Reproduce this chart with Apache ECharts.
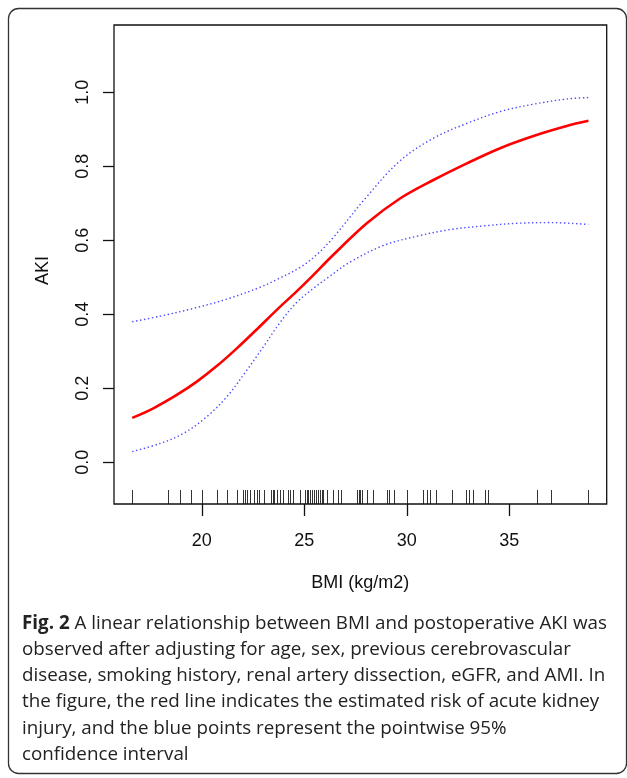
<!DOCTYPE html>
<html>
<head>
<meta charset="utf-8">
<script src="https://cdn.jsdelivr.net/npm/echarts@6/dist/echarts.min.js"></script>
<style>
html,body{margin:0;padding:0;background:#fff;}
#chart{width:627px;height:778px;}
</style>
</head>
<body>
<div id="chart"></div>
<script>
// BMI values and estimated AKI risk (red line)
const fitBMI = [16.61, 17.64, 18.78, 19.76, 20.73, 21.71, 22.68, 23.66, 24.63, 25.28, 26.42, 28.05, 29.67, 31.30, 32.93, 34.55, 36.18, 37.80, 38.86];
const fitAKI = [0.120, 0.146, 0.182, 0.218, 0.260, 0.308, 0.359, 0.412, 0.462, 0.497, 0.561, 0.646, 0.713, 0.763, 0.808, 0.849, 0.882, 0.909, 0.923];
// upper 95% CI (blue dotted)
const upBMI = [16.61, 17.97, 19.59, 21.22, 22.84, 23.66, 24.80, 25.60, 26.42, 28.05, 29.67, 31.30, 32.93, 34.55, 36.18, 37.80, 38.86];
const upAKI = [0.380, 0.395, 0.416, 0.441, 0.473, 0.494, 0.527, 0.561, 0.608, 0.718, 0.815, 0.876, 0.916, 0.948, 0.968, 0.982, 0.986];
// lower 95% CI (blue dotted)
const loBMI = [16.61, 17.97, 19.10, 20.24, 21.22, 22.20, 23.00, 23.82, 24.63, 25.44, 26.10, 27.23, 28.86, 30.49, 32.11, 33.74, 35.37, 37.00, 38.86];
const loAKI = [0.029, 0.051, 0.078, 0.123, 0.177, 0.249, 0.312, 0.378, 0.432, 0.470, 0.497, 0.541, 0.586, 0.611, 0.629, 0.639, 0.646, 0.648, 0.643];
// observed BMI values (rug)
const rugBMI = [16.61, 18.37, 18.94, 19.48, 20.01, 20.76, 21.22, 21.71, 22.03, 22.11, 22.20, 22.36, 22.55, 22.68, 22.81, 23.04, 23.38, 23.46, 23.54, 23.66, 23.82, 23.98, 24.22, 24.31, 24.47, 24.80, 25.04, 25.12, 25.20, 25.28, 25.40, 25.49, 25.58, 25.66, 25.77, 25.85, 25.93, 26.10, 26.42, 26.66, 26.78, 27.59, 27.66, 27.72, 27.80, 28.05, 28.37, 29.02, 29.15, 29.38, 30.00, 30.81, 30.98, 31.14, 31.43, 32.20, 32.89, 33.05, 33.22, 33.82, 33.95, 36.34, 37.02, 38.86];
// tick labels
const xTicks = [20, 25, 30, 35];
const yTicks = [0, 0.2, 0.4, 0.6, 0.8, 1.0];
const xName = 'BMI (kg/m2)';
const yName = 'AKI';

// plot box in data units; the y axis extends a little below the box to hold the x tick marks
const X_MIN = 15.72, X_MAX = 39.75, Y_BOX = -0.1127, Y_MAX = 1.182, Y_MIN = -0.1451;
const zip = (a, b) => a.map((v, i) => [v, b[i]]);
const axisFont = {fontFamily: 'Liberation Sans', fontSize: 18, color: '#111'};

// rows: kind 0 = rug mark, kind 1 = x-axis tick, kind 2 = plot box
const markRows = rugBMI.map(v => [v, 0]).concat(xTicks.map(v => [v, 1])).concat([[X_MIN, 2]]);

const chart = echarts.init(document.getElementById('chart'), null, {renderer: 'canvas'});
chart.setOption({
  animation: false,
  backgroundColor: '#fff',
  grid: {left: 114, right: 20.3, top: 25, bottom: 262, show: false, outerBoundsMode: 'none'},
  xAxis: {
    type: 'value', min: X_MIN, max: X_MAX,
    name: xName, nameLocation: 'middle', nameGap: 58, nameTextStyle: axisFont,
    axisLine: {show: false, onZero: false},
    splitLine: {show: false},
    axisTick: {show: false},
    axisLabel: {customValues: xTicks, margin: 16, ...axisFont, formatter: v => String(v)}
  },
  yAxis: {
    type: 'value', min: Y_MIN, max: Y_MAX,
    name: yName, nameLocation: 'middle', nameGap: 62, nameRotate: 90, nameTextStyle: axisFont,
    axisLine: {show: false, onZero: false},
    splitLine: {show: false},
    axisTick: {show: true, length: 11, lineStyle: {color: '#111', width: 1.3}, customValues: yTicks},
    axisLabel: {customValues: yTicks, rotate: 90, margin: 22, ...axisFont, formatter: v => v.toFixed(1)}
  },
  series: [
    {
      type: 'line', data: zip(upBMI, upAKI), smooth: 0.35, symbol: 'none',
      lineStyle: {color: '#4a4aff', width: 1.4, type: [1.4, 2.6]}
    },
    {
      type: 'line', data: zip(loBMI, loAKI), smooth: 0.35, symbol: 'none',
      lineStyle: {color: '#4a4aff', width: 1.4, type: [1.4, 2.6]}
    },
    {
      type: 'line', data: zip(fitBMI, fitAKI), smooth: 0.35, symbol: 'none',
      lineStyle: {color: '#ff0000', width: 2.6}
    },
    {
      type: 'custom',
      clip: false,
      data: markRows,
      renderItem: function (params, api) {
        const kind = api.value(1);
        const b = api.coord([api.value(0), Y_BOX]);
        const x = Math.round(b[0]) + 0.5;
        if (kind === 2) {
          const tr = api.coord([X_MAX, Y_MAX]);
          return {type: 'rect', shape: {x: b[0], y: tr[1], width: tr[0] - b[0], height: b[1] - tr[1]}, style: {fill: 'none', stroke: '#111', lineWidth: 1.3}};
        }
        if (kind === 1) {
          const e = api.coord([api.value(0), Y_MIN]);
          return {type: 'line', shape: {x1: x, y1: b[1], x2: x, y2: e[1]}, style: {stroke: '#111', lineWidth: 1.3}};
        }
        return {type: 'line', shape: {x1: x, y1: b[1], x2: x, y2: b[1] - 14}, style: {stroke: '#333', lineWidth: 1}};
      },
      silent: true
    }
  ],
  graphic: [
    {type: 'rect', shape: {x: 8.5, y: 8.5, width: 618, height: 765, r: 10}, style: {fill: 'none', stroke: '#333', lineWidth: 1.3}, silent: true},
    {
      type: 'text', left: 22, top: 610,
      style: {
        text: '{b|Fig. 2} A linear relationship between BMI and postoperative AKI was\nobserved after adjusting for age, sex, previous cerebrovascular\ndisease, smoking history, renal artery dissection, eGFR, and AMI. In\nthe figure, the red line indicates the estimated risk of acute kidney\ninjury, and the blue points represent the pointwise 95%\nconfidence interval',
        fontFamily: 'Open Sans', fontSize: 18.8, lineHeight: 26.3, fill: '#222',
        rich: {b: {fontFamily: 'Open Sans', fontSize: 18.8, fontWeight: 'bold', lineHeight: 26.3, fill: '#222'}}
      }
    }
  ]
});
</script>
</body>
</html>
